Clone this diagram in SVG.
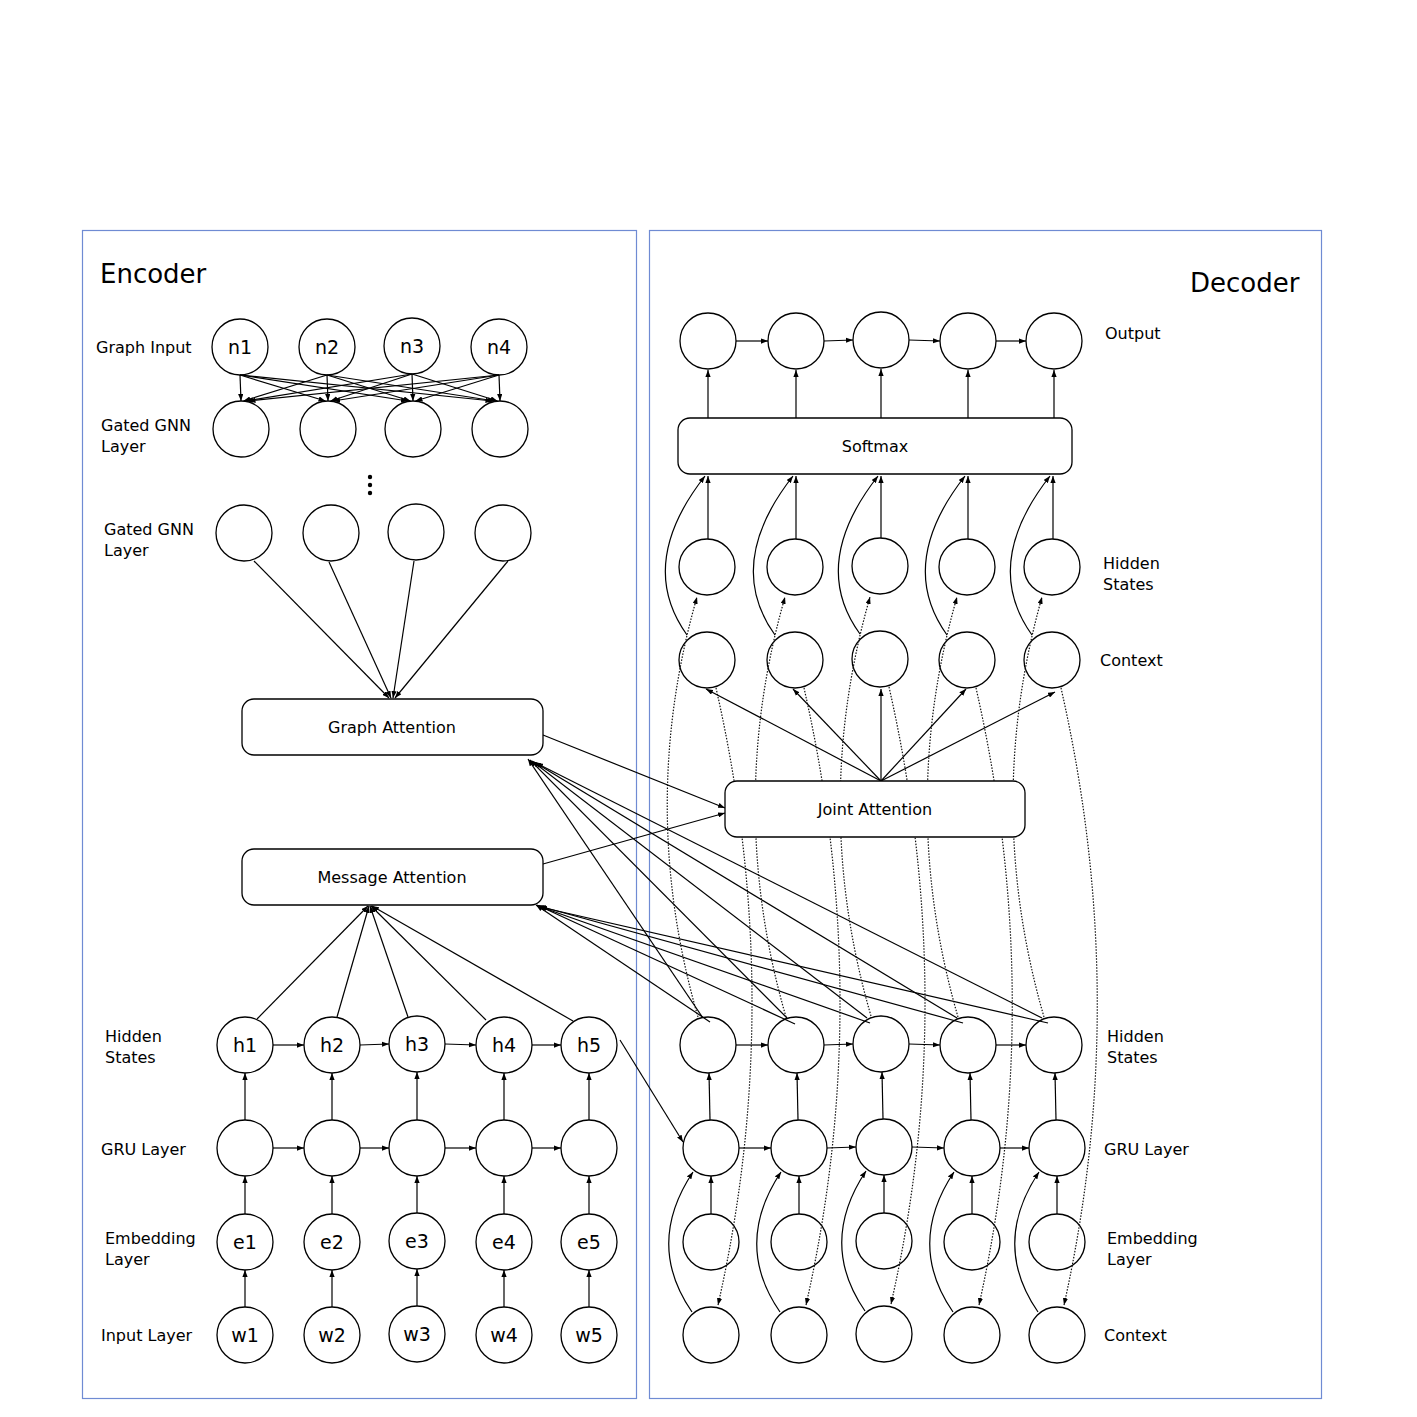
<svg xmlns="http://www.w3.org/2000/svg" width="1417" height="1417" viewBox="0 0 1417 1417">
<defs>
<marker id="ah" viewBox="0 0 8 6" markerWidth="7" markerHeight="5.5" refX="8" refY="3" orient="auto" markerUnits="userSpaceOnUse"><path d="M0,0 L8,3 L0,6 z" fill="#000"/></marker>
<style>
.frame{fill:none;stroke:#6f8bd3;stroke-width:1.2}
.nd{fill:#fff;stroke:#000;stroke-width:1.3}
.bx{fill:#fff;stroke:#000;stroke-width:1.3}
.c{fill:none;stroke:#000;stroke-width:1.2;marker-end:url(#ah)}
.d{fill:none;stroke:#111;stroke-width:1.2;stroke-dasharray:1.5 1.5;marker-end:url(#ah)}
.t{font-family:"DejaVu Sans",sans-serif;font-size:16px;fill:#000}
.nt{font-family:"DejaVu Sans",sans-serif;font-size:19px;fill:#000;text-anchor:middle}
.bt{font-family:"DejaVu Sans",sans-serif;font-size:16px;fill:#000;text-anchor:middle}
.title{font-family:"DejaVu Sans",sans-serif;font-size:26px;fill:#000}
</style>
</defs>
<rect width="1417" height="1417" fill="#fff"/>
<rect class="frame" x="82.5" y="230.5" width="554" height="1168"/>
<rect class="frame" x="649.5" y="230.5" width="672" height="1168"/>

<!-- Encoder graph nodes -->
<g id="n1"><circle class="nd" cx="240" cy="347" r="28"/><text class="nt" x="240" y="354">n1</text></g>
<g id="n2"><circle class="nd" cx="327" cy="347" r="28"/><text class="nt" x="327" y="354">n2</text></g>
<g id="n3"><circle class="nd" cx="412" cy="346" r="28"/><text class="nt" x="412" y="353">n3</text></g>
<g id="n4"><circle class="nd" cx="499" cy="347" r="28"/><text class="nt" x="499" y="354">n4</text></g>
<g id="g1a"><circle class="nd" cx="241" cy="429" r="28"/></g>
<g id="g1b"><circle class="nd" cx="328" cy="429" r="28"/></g>
<g id="g1c"><circle class="nd" cx="413" cy="429" r="28"/></g>
<g id="g1d"><circle class="nd" cx="500" cy="429" r="28"/></g>
<g id="dots"><circle cx="370" cy="477" r="2.2"/><circle cx="370" cy="485" r="2.2"/><circle cx="370" cy="493" r="2.2"/></g>
<g id="g2a"><circle class="nd" cx="244" cy="533" r="28"/></g>
<g id="g2b"><circle class="nd" cx="331" cy="533" r="28"/></g>
<g id="g2c"><circle class="nd" cx="416" cy="532" r="28"/></g>
<g id="g2d"><circle class="nd" cx="503" cy="533" r="28"/></g>

<!-- Encoder sequence nodes -->
<g id="h1"><circle class="nd" cx="245" cy="1045" r="28"/><text class="nt" x="245" y="1052">h1</text></g>
<g id="h2"><circle class="nd" cx="332" cy="1045" r="28"/><text class="nt" x="332" y="1052">h2</text></g>
<g id="h3"><circle class="nd" cx="417" cy="1044" r="28"/><text class="nt" x="417" y="1051">h3</text></g>
<g id="h4"><circle class="nd" cx="504" cy="1045" r="28"/><text class="nt" x="504" y="1052">h4</text></g>
<g id="h5"><circle class="nd" cx="589" cy="1045" r="28"/><text class="nt" x="589" y="1052">h5</text></g>
<g id="eg1"><circle class="nd" cx="245" cy="1148" r="28"/></g>
<g id="eg2"><circle class="nd" cx="332" cy="1148" r="28"/></g>
<g id="eg3"><circle class="nd" cx="417" cy="1148" r="28"/></g>
<g id="eg4"><circle class="nd" cx="504" cy="1148" r="28"/></g>
<g id="eg5"><circle class="nd" cx="589" cy="1148" r="28"/></g>
<g id="e1"><circle class="nd" cx="245" cy="1242" r="28"/><text class="nt" x="245" y="1249">e1</text></g>
<g id="e2"><circle class="nd" cx="332" cy="1242" r="28"/><text class="nt" x="332" y="1249">e2</text></g>
<g id="e3"><circle class="nd" cx="417" cy="1241" r="28"/><text class="nt" x="417" y="1248">e3</text></g>
<g id="e4"><circle class="nd" cx="504" cy="1242" r="28"/><text class="nt" x="504" y="1249">e4</text></g>
<g id="e5"><circle class="nd" cx="589" cy="1242" r="28"/><text class="nt" x="589" y="1249">e5</text></g>
<g id="w1"><circle class="nd" cx="245" cy="1335" r="28"/><text class="nt" x="245" y="1342">w1</text></g>
<g id="w2"><circle class="nd" cx="332" cy="1335" r="28"/><text class="nt" x="332" y="1342">w2</text></g>
<g id="w3"><circle class="nd" cx="417" cy="1334" r="28"/><text class="nt" x="417" y="1341">w3</text></g>
<g id="w4"><circle class="nd" cx="504" cy="1335" r="28"/><text class="nt" x="504" y="1342">w4</text></g>
<g id="w5"><circle class="nd" cx="589" cy="1335" r="28"/><text class="nt" x="589" y="1342">w5</text></g>

<!-- Decoder upper nodes -->
<g id="o1"><circle class="nd" cx="708" cy="341" r="28"/></g>
<g id="o2"><circle class="nd" cx="796" cy="341" r="28"/></g>
<g id="o3"><circle class="nd" cx="881" cy="340" r="28"/></g>
<g id="o4"><circle class="nd" cx="968" cy="341" r="28"/></g>
<g id="o5"><circle class="nd" cx="1054" cy="341" r="28"/></g>
<g id="dh1"><circle class="nd" cx="707" cy="567" r="28"/></g>
<g id="dh2"><circle class="nd" cx="795" cy="567" r="28"/></g>
<g id="dh3"><circle class="nd" cx="880" cy="566" r="28"/></g>
<g id="dh4"><circle class="nd" cx="967" cy="567" r="28"/></g>
<g id="dh5"><circle class="nd" cx="1052" cy="567" r="28"/></g>
<g id="dc1"><circle class="nd" cx="707" cy="660" r="28"/></g>
<g id="dc2"><circle class="nd" cx="795" cy="660" r="28"/></g>
<g id="dc3"><circle class="nd" cx="880" cy="659" r="28"/></g>
<g id="dc4"><circle class="nd" cx="967" cy="660" r="28"/></g>
<g id="dc5"><circle class="nd" cx="1052" cy="660" r="28"/></g>

<!-- Decoder lower nodes -->
<g id="lh1"><circle class="nd" cx="708" cy="1045" r="28"/></g>
<g id="lh2"><circle class="nd" cx="796" cy="1045" r="28"/></g>
<g id="lh3"><circle class="nd" cx="881" cy="1044" r="28"/></g>
<g id="lh4"><circle class="nd" cx="968" cy="1045" r="28"/></g>
<g id="lh5"><circle class="nd" cx="1054" cy="1045" r="28"/></g>
<g id="lg1"><circle class="nd" cx="711" cy="1148" r="28"/></g>
<g id="lg2"><circle class="nd" cx="799" cy="1148" r="28"/></g>
<g id="lg3"><circle class="nd" cx="884" cy="1147" r="28"/></g>
<g id="lg4"><circle class="nd" cx="972" cy="1148" r="28"/></g>
<g id="lg5"><circle class="nd" cx="1057" cy="1148" r="28"/></g>
<g id="le1"><circle class="nd" cx="711" cy="1242" r="28"/></g>
<g id="le2"><circle class="nd" cx="799" cy="1242" r="28"/></g>
<g id="le3"><circle class="nd" cx="884" cy="1241" r="28"/></g>
<g id="le4"><circle class="nd" cx="972" cy="1242" r="28"/></g>
<g id="le5"><circle class="nd" cx="1057" cy="1242" r="28"/></g>
<g id="lc1"><circle class="nd" cx="711" cy="1335" r="28"/></g>
<g id="lc2"><circle class="nd" cx="799" cy="1335" r="28"/></g>
<g id="lc3"><circle class="nd" cx="884" cy="1334" r="28"/></g>
<g id="lc4"><circle class="nd" cx="972" cy="1335" r="28"/></g>
<g id="lc5"><circle class="nd" cx="1057" cy="1335" r="28"/></g>

<g id="connectors">
<!-- GNN edges -->
<path class="c" d="M240,375 L241,401"/><path class="c" d="M240,375 L325.5,401"/><path class="c" d="M240,375 L408,401"/><path class="c" d="M240,375 L492.5,401"/>
<path class="c" d="M327,375 L243.5,401"/><path class="c" d="M327,375 L328,401"/><path class="c" d="M327,375 L410.5,401"/><path class="c" d="M327,375 L495,401"/>
<path class="c" d="M412,374 L246,401"/><path class="c" d="M412,374 L330.5,401"/><path class="c" d="M412,374 L413,401"/><path class="c" d="M412,374 L497.5,401"/>
<path class="c" d="M499,375 L248.5,401"/><path class="c" d="M499,375 L333,401"/><path class="c" d="M499,375 L415.5,401"/><path class="c" d="M499,375 L500,401"/>
<!-- GNN2 to graph attention -->
<path class="c" d="M254,561 L389,698"/><path class="c" d="M329,562 L391,698"/><path class="c" d="M414,561 L393,698"/><path class="c" d="M508,561 L395,698"/>
<!-- encoder chains -->
<path class="c" d="M273,1045 L304,1045"/><path class="c" d="M360,1045 L389,1044"/><path class="c" d="M445,1044 L476,1045"/><path class="c" d="M532,1045 L561,1045"/>
<path class="c" d="M273,1148 L304,1148"/><path class="c" d="M360,1148 L389,1148"/><path class="c" d="M445,1148 L476,1148"/><path class="c" d="M532,1148 L561,1148"/>
<path class="c" d="M245,1307 L245,1270"/><path class="c" d="M332,1307 L332,1270"/><path class="c" d="M417,1306 L417,1269"/><path class="c" d="M504,1307 L504,1270"/><path class="c" d="M589,1307 L589,1270"/>
<path class="c" d="M245,1214 L245,1176"/><path class="c" d="M332,1214 L332,1176"/><path class="c" d="M417,1213 L417,1176"/><path class="c" d="M504,1214 L504,1176"/><path class="c" d="M589,1214 L589,1176"/>
<path class="c" d="M245,1120 L245,1073"/><path class="c" d="M332,1120 L332,1073"/><path class="c" d="M417,1120 L417,1072"/><path class="c" d="M504,1120 L504,1073"/><path class="c" d="M589,1120 L589,1073"/>
<!-- encoder hidden to message attention -->
<path class="c" d="M257,1019 L368,906"/><path class="c" d="M337,1017 L369,906"/><path class="c" d="M408,1017 L370,906"/><path class="c" d="M486,1020 L371,906"/><path class="c" d="M573,1021 L372,906"/>
<!-- attention to joint -->
<path class="c" d="M543,735 L725,808"/><path class="c" d="M543,864 L725,813"/>
<!-- h5 to decoder GRU -->
<path class="c" d="M620,1040 L683,1142"/>
<!-- decoder hidden to graph attention -->
<path class="c" d="M703,1018 L528,759"/><path class="c" d="M787,1018 L530,760"/><path class="c" d="M867,1018 L532,761"/><path class="c" d="M957,1018 L534,762"/><path class="c" d="M1042,1018 L536,763"/>
<!-- decoder hidden to message attention -->
<path class="c" d="M710,1022 L536,905"/><path class="c" d="M795,1024 L537,905"/><path class="c" d="M870,1023 L538,906"/><path class="c" d="M963,1023 L539,906"/><path class="c" d="M1048,1023 L540,907"/>
<!-- output chain -->
<path class="c" d="M736,341 L768,341"/><path class="c" d="M824,341 L853,340"/><path class="c" d="M909,340 L940,341"/><path class="c" d="M996,341 L1026,341"/>
<!-- softmax to output -->
<path class="c" d="M708,418 L708,370"/><path class="c" d="M796,418 L796,370"/><path class="c" d="M881,418 L881,369"/><path class="c" d="M968,418 L968,370"/><path class="c" d="M1054,418 L1054,370"/>
<!-- hidden to softmax -->
<path class="c" d="M708,539 L708,476"/><path class="c" d="M796,539 L796,476"/><path class="c" d="M881,538 L881,476"/><path class="c" d="M968,539 L968,476"/><path class="c" d="M1053,539 L1053,476"/>
<!-- context curves to softmax -->
<path class="c" d="M687,635 Q636,564 705,476"/><path class="c" d="M775,635 Q724,564 793,476"/><path class="c" d="M860,634 Q809,564 878,476"/><path class="c" d="M947,635 Q896,564 965,476"/><path class="c" d="M1032,635 Q981,564 1050,476"/>
<!-- joint attention to context -->
<path class="c" d="M881,781 L706,689"/><path class="c" d="M881,781 L793,689"/><path class="c" d="M881,781 L881,689"/><path class="c" d="M881,781 L966,689"/><path class="c" d="M881,781 L1055,692"/>
<!-- dotted: lower hidden to upper hidden -->
<path class="d" d="M698,1017 Q637,806 697,597"/><path class="d" d="M786,1017 Q725,806 785,597"/><path class="d" d="M871,1016 Q810,806 870,597"/><path class="d" d="M958,1017 Q897,806 957,597"/><path class="d" d="M1044,1017 Q983,806 1042,597"/>
<!-- dotted: upper context to lower context -->
<path class="d" d="M716,688 Q787,1000 718,1305"/><path class="d" d="M804,688 Q875,1000 806,1305"/><path class="d" d="M889,687 Q960,1000 891,1304"/><path class="d" d="M976,688 Q1047,1000 979,1305"/><path class="d" d="M1061,688 Q1132,1000 1064,1305"/>
<!-- decoder lower chains -->
<path class="c" d="M736,1045 L768,1045"/><path class="c" d="M824,1045 L853,1044"/><path class="c" d="M909,1044 L940,1045"/><path class="c" d="M996,1045 L1026,1045"/>
<path class="c" d="M739,1148 L771,1148"/><path class="c" d="M827,1148 L856,1147"/><path class="c" d="M912,1147 L944,1148"/><path class="c" d="M1000,1148 L1029,1148"/>
<path class="c" d="M711,1214 L711,1176"/><path class="c" d="M799,1214 L799,1176"/><path class="c" d="M884,1213 L884,1175"/><path class="c" d="M972,1214 L972,1176"/><path class="c" d="M1057,1214 L1057,1176"/>
<path class="c" d="M710,1120 L709,1073"/><path class="c" d="M798,1120 L797,1073"/><path class="c" d="M883,1119 L882,1072"/><path class="c" d="M971,1120 L970,1073"/><path class="c" d="M1056,1120 L1055,1073"/>
<!-- context curves to GRU -->
<path class="c" d="M692,1312 Q645,1244 693,1172"/><path class="c" d="M780,1312 Q733,1244 781,1172"/><path class="c" d="M865,1311 Q818,1243 866,1171"/><path class="c" d="M953,1312 Q906,1244 954,1172"/><path class="c" d="M1038,1312 Q991,1244 1039,1172"/>
</g>

<!-- box nodes -->
<g id="graph-attention"><rect class="bx" x="242" y="699" width="301" height="56" rx="12"/><text class="bt" x="392" y="733">Graph Attention</text></g>
<g id="message-attention"><rect class="bx" x="242" y="849" width="301" height="56" rx="12"/><text class="bt" x="392" y="883">Message Attention</text></g>
<g id="joint-attention"><rect class="bx" x="725" y="781" width="300" height="56" rx="12"/><text class="bt" x="875" y="815">Joint Attention</text></g>
<g id="softmax"><rect class="bx" x="678" y="418" width="394" height="56" rx="12"/><text class="bt" x="875" y="452">Softmax</text></g>

<g id="labels">
<text class="title" x="100" y="283">Encoder</text>
<text class="title" x="1190" y="292">Decoder</text>
<text class="t" x="96" y="353">Graph Input</text>
<text class="t" x="101" y="431">Gated GNN</text><text class="t" x="101" y="452">Layer</text>
<text class="t" x="104" y="535">Gated GNN</text><text class="t" x="104" y="556">Layer</text>
<text class="t" x="105" y="1042">Hidden</text><text class="t" x="105" y="1063">States</text>
<text class="t" x="101" y="1155">GRU Layer</text>
<text class="t" x="105" y="1244">Embedding</text><text class="t" x="105" y="1265">Layer</text>
<text class="t" x="101" y="1341">Input Layer</text>
<text class="t" x="1105" y="339">Output</text>
<text class="t" x="1103" y="569">Hidden</text><text class="t" x="1103" y="590">States</text>
<text class="t" x="1100" y="666">Context</text>
<text class="t" x="1107" y="1042">Hidden</text><text class="t" x="1107" y="1063">States</text>
<text class="t" x="1104" y="1155">GRU Layer</text>
<text class="t" x="1107" y="1244">Embedding</text><text class="t" x="1107" y="1265">Layer</text>
<text class="t" x="1104" y="1341">Context</text>
</g>
</svg>
